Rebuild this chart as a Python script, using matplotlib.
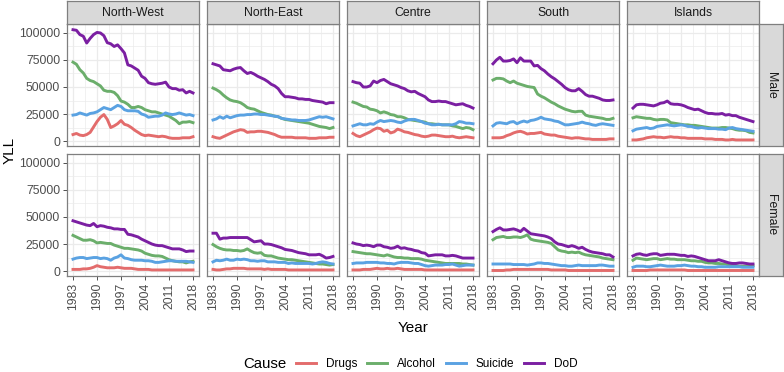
import matplotlib
matplotlib.use("Agg")
import matplotlib.pyplot as plt
import numpy as np

plt.rcParams['font.family'] = ['Liberation Sans', 'DejaVu Sans']

# Years and facets
years = list(range(1983, 2019))
regions = ["North-West", "North-East", "Centre", "South", "Islands"]
sexes = ["Male", "Female"]
causes = ["Drugs", "Alcohol", "Suicide", "DoD"]
x_ticks = [1983, 1990, 1997, 2004, 2011, 2018]
y_ticks = [0, 25000, 50000, 75000, 100000]

# ---- Male ----
nw_male_drugs = [6000, 7000, 5500, 5000, 6000, 8000, 13000, 18000, 22000, 24500, 20000, 12500,
                 14000, 16000, 19000, 15500, 14500, 12500, 10000, 8000, 6000, 5000, 5500, 5000,
                 4500, 4000, 4500, 4000, 3000, 2500, 2500, 2500, 3000, 3000, 3000, 4000]
nw_male_alcohol = [73000, 71000, 66000, 63000, 58000, 56000, 55000, 53000, 51000, 47000, 46000, 46000,
                   45000, 42000, 37000, 36000, 34000, 31000, 31000, 32000, 31000, 29000, 28000, 27000,
                   27000, 26000, 25000, 24000, 23000, 21000, 19000, 16000, 17500, 17500, 18000, 17000]
nw_male_suicide = [24000, 24500, 26000, 25000, 24000, 25500, 26000, 27000, 29000, 31000, 30000, 29000,
                   31000, 33000, 32000, 29000, 28000, 28000, 28000, 27500, 25000, 24000, 22000, 22500,
                   23000, 23000, 24000, 26000, 25000, 24500, 25000, 26000, 25000, 24000, 24500, 23500]
nw_male_dod = [103000, 102500, 98500, 97000, 90700, 95000, 98500, 100500, 100000, 97500, 91000, 90000,
               87500, 89000, 85500, 81500, 70500, 69500, 67500, 65500, 60000, 58000, 54000, 53000,
               52500, 53000, 53500, 54500, 50000, 48500, 48500, 47000, 47500, 44500, 46000, 44500]

ne_male_drugs = [4000, 3000, 2500, 4000, 5500, 7000, 8500, 9500, 10500, 10000, 8000, 8500,
                 8500, 9000, 9000, 8500, 8000, 7000, 6000, 4500, 3500, 3500, 3500, 3500,
                 3000, 3000, 3000, 3000, 2500, 2500, 2500, 3000, 3000, 3000, 3500, 3500]
ne_male_alcohol = [49000, 47500, 45500, 42500, 40000, 38000, 37000, 36500, 35500, 33500, 31000, 30000,
                   29500, 28000, 26500, 25500, 24500, 24000, 23000, 22500, 21000, 20000, 19500, 19000,
                   18500, 18000, 17500, 17000, 16500, 15500, 14500, 13500, 13000, 12500, 11500, 12500]
ne_male_suicide = [19500, 20500, 22500, 21000, 23000, 21500, 22500, 23500, 24000, 24000, 24500, 24500,
                   25000, 25000, 24500, 24500, 24000, 23500, 23000, 22500, 21000, 20500, 20000, 19500,
                   19500, 19000, 19000, 19000, 19500, 20500, 21500, 22500, 22000, 22500, 21500, 20500]
ne_male_dod = [71500, 70500, 69500, 66000, 65500, 65000, 66500, 67500, 68000, 65000, 62500, 63500,
               62000, 60000, 58500, 57000, 55000, 52500, 51000, 48500, 44000, 41000, 41000, 40500,
               40000, 39000, 39000, 38500, 38500, 37500, 37000, 36500, 36000, 34500, 35500, 35500]

ce_male_drugs = [7000, 5000, 4000, 5500, 7000, 8500, 10500, 12000, 11500, 9000, 10000, 7500,
                 8500, 11000, 10000, 8500, 8000, 7000, 6000, 5500, 4500, 4000, 4500, 5500,
                 5500, 5000, 4500, 4000, 4000, 4500, 3500, 3000, 3500, 4000, 3500, 3000]
ce_male_alcohol = [36000, 35000, 33500, 32000, 31500, 29500, 29000, 28000, 26000, 27000, 26000, 24500,
                   24000, 22500, 22500, 21500, 20000, 19500, 19000, 18500, 18000, 17500, 16000, 16000,
                   15500, 15500, 15000, 15000, 15000, 14000, 13500, 12500, 11500, 12500, 12000, 10500]
ce_male_suicide = [14000, 15000, 16000, 15000, 15000, 16000, 15500, 17500, 19000, 18000, 18500, 19000,
                   18500, 17500, 17000, 18500, 19500, 20000, 20000, 19000, 18000, 16500, 16000, 15000,
                   15000, 15500, 15000, 15000, 15000, 15000, 16000, 18000, 17500, 16500, 16500, 16000]
ce_male_dod = [55000, 54000, 53500, 50000, 50000, 51000, 55500, 54000, 56000, 57000, 55000, 53000,
               52000, 51000, 49500, 48500, 46500, 45500, 46000, 44000, 42500, 41000, 38000, 36500,
               36500, 37000, 36500, 36500, 35500, 34500, 33500, 34000, 34500, 33000, 32000, 30500]

so_male_drugs = [3000, 3000, 3000, 3500, 5000, 6000, 7500, 8500, 9000, 8000, 6500, 7000,
                 7000, 7500, 8000, 6500, 6000, 5500, 5500, 4500, 4000, 3500, 3000, 2500,
                 3000, 3000, 2500, 2000, 2000, 1500, 1500, 1500, 1500, 1500, 2000, 2000]
so_male_alcohol = [56500, 58000, 58000, 57500, 55500, 54000, 55500, 53500, 52500, 51500, 50500, 50000,
                   49500, 43500, 41500, 40000, 38000, 36000, 34500, 32500, 31000, 29500, 28500, 27500,
                   27000, 27500, 27500, 24000, 23000, 22500, 22000, 21500, 21000, 20000, 20000, 21000]
so_male_suicide = [14000, 16500, 17000, 16500, 16000, 17500, 18000, 16000, 17500, 18500, 17500, 19000,
                   19500, 20500, 22000, 20500, 20000, 19500, 18500, 18000, 16500, 15000, 15000, 15500,
                   16000, 16500, 17500, 16500, 16000, 15000, 14500, 15500, 16000, 15500, 15000, 14500]
so_male_dod = [71500, 75000, 77500, 74000, 74000, 74500, 76000, 72500, 77000, 74000, 74000, 74000,
               69500, 70000, 67000, 65000, 62000, 59500, 57500, 55000, 52500, 49500, 47500, 46500,
               46500, 48500, 46000, 43000, 41500, 41500, 40500, 39500, 38000, 37500, 37500, 38000]

is_male_drugs = [1000, 1000, 1500, 2000, 3000, 3500, 4000, 3500, 3500, 3000, 3500, 4000,
                 3500, 3500, 3000, 3000, 2500, 2500, 2500, 2500, 2500, 2000, 2000, 2000,
                 1500, 1500, 1500, 1000, 1000, 1500, 1000, 1000, 1000, 1000, 1000, 1000]
is_male_alcohol = [21500, 22500, 22000, 21500, 21000, 21000, 20000, 19500, 20000, 20000, 19500, 17000,
                   16500, 16000, 15500, 15000, 15000, 14500, 14500, 14000, 13500, 13000, 12500, 12000,
                   12000, 12000, 12500, 12500, 12000, 11500, 10500, 10000, 10000, 9500, 8000, 7500]
is_male_suicide = [9500, 11000, 11500, 12000, 12500, 11500, 12000, 13500, 14000, 14500, 15000, 14500,
                   14000, 14500, 15000, 14500, 13500, 13500, 12500, 12000, 12500, 12000, 11500, 11500,
                   11500, 11000, 11000, 10500, 12000, 12500, 11500, 11000, 10500, 10000, 9500, 9000]
is_male_dod = [30500, 33500, 34000, 34000, 33500, 33000, 32500, 33500, 35000, 35500, 37000, 34500,
               34000, 34000, 33500, 32500, 31000, 30000, 29000, 29500, 28000, 26500, 25500, 25500,
               25000, 25000, 25500, 24000, 24500, 23500, 23500, 22000, 21000, 20000, 19000, 18000]

# ---- Female ----
nw_female_drugs = [1500, 1500, 1500, 2000, 2000, 2500, 3500, 5000, 4000, 3500, 3000, 3000,
                   3000, 3500, 3000, 2500, 2500, 2500, 2000, 1500, 1500, 1500, 1500, 1000,
                   1000, 1000, 1000, 1000, 1000, 1000, 1000, 1000, 1000, 1000, 1000, 1000]
nw_female_alcohol = [33000, 31500, 30000, 28500, 28500, 29000, 28000, 26000, 26500, 26000, 25500, 25500,
                     24000, 23000, 22000, 21000, 21000, 20500, 20000, 19500, 18500, 16500, 15500, 14500,
                     14000, 14000, 13500, 12000, 10500, 9500, 9000, 8500, 8500, 7500, 8500, 9000]
nw_female_suicide = [11000, 12000, 12500, 12500, 11500, 12000, 12500, 12500, 11500, 12000, 11500, 10000,
                     12000, 13000, 15000, 12000, 11500, 10500, 10000, 10000, 10000, 9500, 9500, 9000,
                     8000, 8000, 8500, 9000, 9500, 9500, 9000, 9000, 9000, 9000, 8500, 8000]
nw_female_dod = [46500, 45500, 44500, 43500, 42500, 42000, 44000, 41000, 42000, 41500, 40500, 40000,
                 39000, 39000, 38500, 38500, 34000, 33500, 32500, 31500, 29500, 28000, 26500, 25000,
                 24000, 23500, 23500, 22500, 21500, 20500, 20500, 20500, 19500, 18000, 18500, 18500]

ne_female_drugs = [1500, 1000, 1000, 1500, 2000, 2000, 2500, 2500, 2500, 2500, 2000, 2000,
                   2000, 2000, 2000, 1500, 2000, 1500, 1500, 1500, 1500, 1500, 1000, 1000,
                   1000, 1000, 1000, 1000, 1000, 1000, 1000, 1000, 1000, 1000, 1000, 1000]
ne_female_alcohol = [24500, 22500, 21000, 20000, 19500, 19500, 19000, 19000, 18500, 19000, 20500, 18500,
                     17000, 16500, 17000, 14500, 14000, 14000, 13000, 12000, 11500, 11000, 10500, 10500,
                     10000, 9500, 9000, 8500, 8000, 7500, 7000, 6500, 6500, 6000, 5500, 6000]
ne_female_suicide = [8500, 10000, 9500, 10000, 11000, 10000, 10000, 11000, 10500, 11000, 10500, 9500,
                     9500, 9000, 9500, 9500, 8500, 8500, 8500, 8000, 8000, 8000, 7000, 7500,
                     7000, 7000, 7000, 7000, 7000, 6500, 7000, 8000, 8500, 8000, 7000, 6500]
ne_female_dod = [35000, 35000, 29500, 30500, 30500, 31000, 31000, 31000, 31000, 31000, 31000, 29000,
                 27000, 27500, 28000, 25000, 25000, 24500, 23500, 22500, 21500, 20000, 19500, 19000,
                 18000, 17000, 16500, 16000, 15000, 15000, 15000, 15500, 14000, 12000, 12500, 13500]

ce_female_drugs = [1000, 1000, 1000, 1500, 1500, 1500, 2000, 2500, 2000, 2000, 2500, 2000,
                   2000, 2500, 2000, 1500, 1500, 1500, 1500, 1500, 1500, 1000, 1000, 1000,
                   1000, 1000, 1000, 1000, 1000, 1000, 1000, 1000, 1000, 1000, 1000, 1000]
ce_female_alcohol = [18000, 17500, 17000, 16500, 16000, 16000, 15500, 15000, 14500, 14000, 15000, 14000,
                     13000, 12500, 12500, 12000, 12000, 11500, 11500, 11500, 11000, 10000, 9500, 9000,
                     8500, 8000, 7500, 7000, 7000, 7000, 7000, 7000, 6500, 6500, 6000, 5500]
ce_female_suicide = [7000, 7500, 7500, 7500, 8000, 8000, 8000, 8000, 7500, 7500, 7000, 7000,
                     6500, 7500, 8000, 8000, 8000, 7500, 7000, 7000, 6000, 5000, 4500, 5000,
                     5500, 5500, 5500, 6000, 6000, 6500, 5500, 4500, 5000, 5500, 5500, 5500]
ce_female_dod = [26000, 25000, 24500, 23500, 24000, 23500, 22500, 24000, 24000, 22500, 22000, 21000,
                 21500, 23000, 21000, 21500, 20500, 20000, 19000, 18500, 17000, 16500, 14000, 14500,
                 15000, 15000, 15000, 14000, 14000, 14500, 14000, 13000, 12000, 12000, 12000, 12000]

so_female_drugs = [500, 500, 500, 500, 1000, 1000, 1500, 1500, 1500, 1500, 1500, 1500,
                   1500, 1500, 1500, 1500, 1500, 1000, 1000, 1000, 1000, 1000, 500, 500,
                   500, 500, 500, 500, 500, 500, 500, 500, 500, 500, 500, 500]
so_female_alcohol = [29000, 31000, 31500, 32000, 31000, 31000, 31500, 31500, 31000, 32000, 33500, 29500,
                     28500, 28000, 27500, 27000, 26500, 25500, 22500, 19500, 18500, 18000, 17000, 17500,
                     17000, 17500, 16000, 15000, 14500, 14000, 13500, 13000, 12000, 11500, 11000, 10500]
so_female_suicide = [6500, 6500, 6500, 6500, 6500, 6500, 6000, 6000, 6000, 6000, 5500, 6000,
                     6500, 7500, 7500, 7000, 7000, 6500, 6000, 5500, 5000, 5000, 4500, 4500,
                     5000, 5500, 5000, 5000, 5000, 5000, 5000, 5500, 5500, 5000, 4500, 4500]
so_female_dod = [36500, 38500, 40000, 38000, 38000, 38500, 39000, 38000, 36500, 39500, 37000, 34500,
                 34000, 33500, 33000, 32500, 31500, 30000, 27000, 25000, 24500, 23500, 22500, 23500,
                 22500, 21000, 22000, 20000, 18500, 17500, 17000, 16500, 16000, 15000, 15000, 13000]

is_female_drugs = [500, 500, 500, 500, 500, 1000, 1000, 1000, 1000, 1000, 1000, 1000,
                   1000, 1000, 1000, 1000, 500, 500, 500, 500, 500, 500, 500, 500,
                   500, 500, 500, 500, 500, 500, 500, 500, 500, 500, 500, 500]
is_female_alcohol = [10000, 12000, 11500, 11000, 10500, 11000, 11500, 11500, 10500, 11000, 11500, 11000,
                     11000, 10500, 10500, 10500, 10000, 9500, 9500, 9000, 9000, 8000, 7500, 7500,
                     7000, 7000, 6500, 6500, 5500, 5000, 5000, 4500, 4500, 4500, 4500, 5000]
is_female_suicide = [3500, 4500, 4500, 4500, 4000, 4000, 4500, 5000, 5500, 5000, 4500, 4500,
                     4500, 5000, 5000, 5500, 5000, 4500, 4500, 4000, 4000, 3500, 3500, 3500,
                     3500, 4000, 4000, 4000, 4000, 4000, 4000, 4000, 3500, 3500, 3500, 3500]
is_female_dod = [14000, 15500, 16000, 15000, 14500, 15500, 16000, 16000, 14500, 15000, 15500, 15500,
                 15500, 15000, 14500, 14500, 13500, 14000, 13500, 12500, 11500, 10500, 9500, 9500,
                 9500, 10500, 9500, 8500, 7500, 7000, 7000, 7500, 7500, 7000, 6500, 6500]

data = {
    ("North-West", "Male"): [nw_male_drugs, nw_male_alcohol, nw_male_suicide, nw_male_dod],
    ("North-East", "Male"): [ne_male_drugs, ne_male_alcohol, ne_male_suicide, ne_male_dod],
    ("Centre", "Male"): [ce_male_drugs, ce_male_alcohol, ce_male_suicide, ce_male_dod],
    ("South", "Male"): [so_male_drugs, so_male_alcohol, so_male_suicide, so_male_dod],
    ("Islands", "Male"): [is_male_drugs, is_male_alcohol, is_male_suicide, is_male_dod],
    ("North-West", "Female"): [nw_female_drugs, nw_female_alcohol, nw_female_suicide, nw_female_dod],
    ("North-East", "Female"): [ne_female_drugs, ne_female_alcohol, ne_female_suicide, ne_female_dod],
    ("Centre", "Female"): [ce_female_drugs, ce_female_alcohol, ce_female_suicide, ce_female_dod],
    ("South", "Female"): [so_female_drugs, so_female_alcohol, so_female_suicide, so_female_dod],
    ("Islands", "Female"): [is_female_drugs, is_female_alcohol, is_female_suicide, is_female_dod],
}

colors = ['#E36C6C', '#6BAE6B', '#5AA2E2', '#7B1FA2']

# Layout in pixels
W, H = 784, 372
fig = plt.figure(figsize=(W / 100, H / 100), dpi=100)

col_left = [67, 207, 347, 487, 627]
panel_w = 132
row_top = [24, 154]
panel_h = 122
strip_h = 23
strip_w = 24

def px(x, y, w, h):
    return [x / W, 1 - (y + h) / H, w / W, h / H]

border_col = '#7F7F7F'
strip_fill = '#D9D9D9'
grid_col = '#EBEBEB'

lines = []
for r, sex in enumerate(sexes):
    for c, region in enumerate(regions):
        ax = fig.add_axes(px(col_left[c], row_top[r], panel_w, panel_h))
        for i, cause in enumerate(causes):
            ln, = ax.plot(years, data[(region, sex)][i], color=colors[i], lw=2.1,
                          solid_joinstyle='round', label=cause, zorder=3)
            if r == 0 and c == 0:
                lines.append(ln)
        ax.set_xlim(1983 - 1.75, 2018 + 1.75)
        ax.set_ylim(-4600, 108300)
        ax.set_xticks(x_ticks)
        ax.set_xticks([1986.5, 1993.5, 2000.5, 2007.5, 2014.5], minor=True)
        ax.set_yticks(y_ticks)
        ax.set_yticks([12500, 37500, 62500, 87500], minor=True)
        ax.grid(which='major', color=grid_col, lw=0.9, zorder=0)
        ax.grid(which='minor', color=grid_col, lw=0.5, zorder=0)
        ax.set_axisbelow(True)
        for s in ax.spines.values():
            s.set_color(border_col)
            s.set_linewidth(0.9)
        ax.tick_params(which='minor', length=0)
        ax.tick_params(which='major', length=3, color='#333333', width=0.6,
                       labelsize=8.8, labelcolor='#4D4D4D', pad=2)
        if c == 0:
            ax.set_yticklabels([str(v) for v in y_ticks])
        else:
            ax.tick_params(axis='y', length=0, labelleft=False)
        if r == 1:
            ax.set_xticklabels([str(v) for v in x_ticks], rotation=90)
        else:
            ax.tick_params(axis='x', length=0, labelbottom=False)

        # top strip
        if r == 0:
            sax = fig.add_axes(px(col_left[c], row_top[0] - strip_h, panel_w, strip_h))
            sax.set_facecolor(strip_fill)
            sax.set_xticks([]); sax.set_yticks([])
            for s in sax.spines.values():
                s.set_color(border_col); s.set_linewidth(0.9)
            sax.text(0.5, 0.5, region, ha='center', va='center', fontsize=8.8,
                     color='#1A1A1A', transform=sax.transAxes)
    # right strip
    rax = fig.add_axes(px(col_left[-1] + panel_w, row_top[r], strip_w, panel_h))
    rax.set_facecolor(strip_fill)
    rax.set_xticks([]); rax.set_yticks([])
    for s in rax.spines.values():
        s.set_color(border_col); s.set_linewidth(0.9)
    rax.text(0.5, 0.5, sex, ha='center', va='center', rotation=-90, fontsize=8.8,
             color='#1A1A1A', transform=rax.transAxes)

fig.text(413 / W, 1 - 328 / H, "Year", ha='center', va='center', fontsize=11)
fig.text(10 / W, 1 - 150 / H, "YLL", ha='center', va='center', rotation=90, fontsize=11)

fig.text(243 / W, 1 - 364 / H, "Cause", ha='left', va='center', fontsize=10.8)
fig.legend(handles=lines, loc='center left', bbox_to_anchor=(294 / W, 1 - 364 / H),
           ncol=4, frameon=False, fontsize=8.5, handlelength=1.7, handletextpad=0.85,
           columnspacing=0.8, borderaxespad=0, borderpad=0.2)

fig.savefig("out.png", dpi=100)
